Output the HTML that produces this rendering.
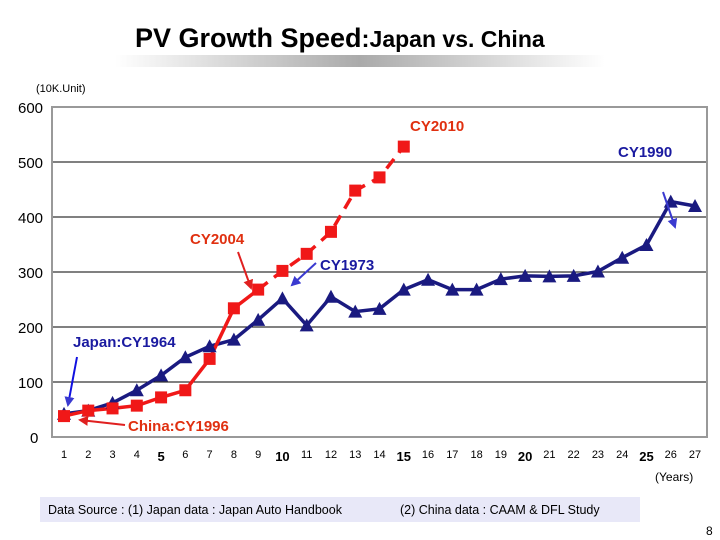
<!DOCTYPE html>
<html><head><meta charset="utf-8"><style>
body{margin:0;width:720px;height:540px;background:#fff;overflow:hidden;font-family:"Liberation Sans",Arial,sans-serif}
svg{display:block}
</style></head><body>
<svg width="720" height="540" id="svg">
<defs>
<linearGradient id="ul" x1="0" x2="1"><stop offset="0" stop-color="#fff"/><stop offset="0.5" stop-color="#aaa"/><stop offset="1" stop-color="#fff"/></linearGradient>
<marker id="ab" viewBox="0 0 10 10" refX="8" refY="5" markerWidth="5" markerHeight="5" orient="auto"><path d="M0,0L10,5L0,10z" fill="#3a3ad0"/></marker>
<marker id="ar" viewBox="0 0 10 10" refX="8" refY="5" markerWidth="5" markerHeight="5" orient="auto"><path d="M0,0L10,5L0,10z" fill="#e02020"/></marker>
</defs>
<rect x="115" y="55" width="490" height="12" fill="url(#ul)"/>
<text x="135" y="47" font-size="27" font-weight="bold">PV Growth Speed<tspan font-size="24">:</tspan><tspan font-size="23">Japan vs. China</tspan></text>
<text x="36" y="92" font-size="11">(10K.Unit)</text>
<g id="grid"></g>
<rect x="52" y="107" width="655" height="330" fill="none" stroke="#999" stroke-width="2"/>
<g id="ylab"></g><g id="xlab"></g>
<g id="series"></g>
<g font-weight="bold" font-size="15">
<text x="410" y="131" fill="#e03010">CY2010</text>
<text x="618" y="157" fill="#1a1aa0">CY1990</text>
<text x="190" y="244" fill="#e03010">CY2004</text>
<text x="320" y="270" fill="#1a1aa0">CY1973</text>
<text x="73" y="347" fill="#1a1aa0">Japan:CY1964</text>
<text x="128" y="431" fill="#e03010">China:CY1996</text>
</g>
<g stroke-width="2" fill="none">
<line x1="663" y1="192" x2="675" y2="227" stroke="#3a3ad0" marker-end="url(#ab)"/>
<line x1="238" y1="252" x2="251" y2="288" stroke="#e02020" marker-end="url(#ar)"/>
<line x1="316" y1="263" x2="292" y2="285" stroke="#3a3ad0" marker-end="url(#ab)"/>
<line x1="77" y1="357" x2="68" y2="405" stroke="#1010e0" marker-end="url(#ab)"/>
<line x1="125" y1="425" x2="80" y2="420" stroke="#e02020" marker-end="url(#ar)"/>
</g>
<text x="655" y="481" font-size="12">(Years)</text>
<rect x="40" y="497" width="600" height="25" fill="#e8e8f8"/>
<text x="48" y="514" font-size="12.5">Data Source : (1) Japan data : Japan Auto Handbook</text>
<text x="400" y="514" font-size="12.5">(2) China data : CAAM &amp; DFL Study</text>
<text x="706" y="535" font-size="12">8</text>
</svg>
<script>
const years=[1,2,3,4,5,6,7,8,9,10,11,12,13,14,15,16,17,18,19,20,21,22,23,24,25,26,27];
const japan=[42,48,62,85,112,145,165,177,213,252,203,255,228,233,268,286,268,268,287,293,292,293,301,326,349,428,420];
const china=[38,48,52,57,72,85,142,234,268,302,333,373,448,472,528];
const yTicks=[0,100,200,300,400,500,600];
const NS='http://www.w3.org/2000/svg';
const X=i=>64+(i-1)*24.27, Y=v=>437-v*0.55;
function mk(t,a,p){const e=document.createElementNS(NS,t);for(const k in a)e.setAttribute(k,a[k]);document.getElementById(p).appendChild(e);return e;}
yTicks.forEach(v=>{
 if(v>0&&v<600){const l=mk('line',{x1:52,x2:707,y1:Y(v),y2:Y(v),stroke:'#000','stroke-width':1},'grid');
 
 }
 const t=mk('text',{x:v==0?30:18,y:Y(v)+6,'font-size':15},'ylab');t.textContent=v;
 
 
});
years.forEach(y=>{
 const b=y%5==0;
 const t=mk('text',{x:X(y),y:b?461:458,'font-size':b?13:11,'font-weight':b?'bold':'normal','text-anchor':'middle'},'xlab');t.textContent=y;
 
 
});
const jp=japan.map((v,i)=>X(years[i])+','+Y(v)).join(' ');
const jl=mk('polyline',{points:jp,fill:'none',stroke:'#1a1a80','stroke-width':3.5},'series');


const solid=china.slice(0,9).map((v,i)=>X(years[i])+','+Y(v)).join(' ');
const cl=mk('polyline',{points:solid,fill:'none',stroke:'#f01818','stroke-width':3.5},'series');


const dash=china.slice(8).map((v,i)=>X(years[i+8])+','+Y(v)).join(' ');
const dl=mk('polyline',{points:dash,fill:'none',stroke:'#f01818','stroke-width':3.5,'stroke-dasharray':'12 8'},'series');


japan.forEach((v,i)=>{const x=X(years[i]),y=Y(v);
 const p=mk('polygon',{points:`${x-7},${y+6} ${x+7},${y+6} ${x},${y-7}`,fill:'#1a1a80'},'series');
 
 });
china.forEach((v,i)=>{const x=X(years[i]),y=Y(v);
 const r=mk('rect',{x:x-6,y:y-6,width:12,height:12,fill:'#f01818'},'series');
 
 });
</script>
</body></html>
